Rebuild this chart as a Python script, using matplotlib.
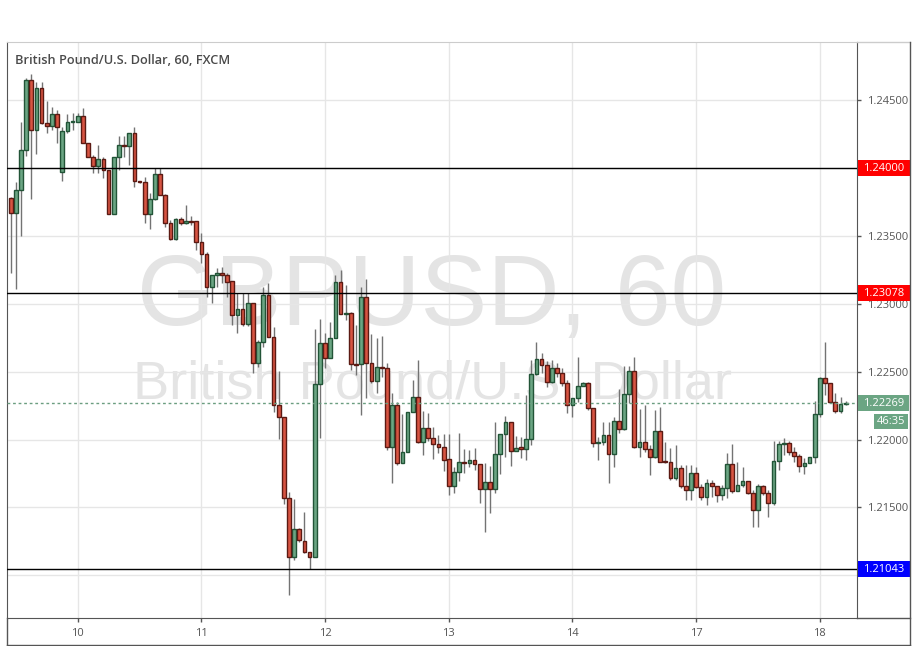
import numpy as np
import matplotlib.pyplot as plt
import matplotlib.transforms as mtransforms
from matplotlib.lines import Line2D
from matplotlib.patches import Rectangle

# GBPUSD hourly candles (FXCM)
opens = [
    1.23780, 1.23669, 1.23839, 1.24131, 1.24647, 1.24279, 1.24588, 1.24330, 1.24308, 1.24397,
    1.23969, 1.24271, 1.24342, 1.24342, 1.24386, 1.24183, 1.24084, 1.24016, 1.24065, 1.23986,
    1.23660, 1.24080, 1.24169, 1.24166, 1.24261, 1.23903, 1.23896, 1.23660, 1.23770, 1.23955,
    1.23800, 1.23594, 1.23476, 1.23623, 1.23594, 1.23613, 1.23608, 1.23458, 1.23367, 1.23126,
    1.23210, 1.23225, 1.23215, 1.23166, 1.22916, 1.22960, 1.22849, 1.23004, 1.22563, 1.22717,
    1.23065, 1.22758, 1.22255, 1.22166, 1.21567, 1.21132, 1.21339, 1.21255, 1.21174, 1.21137,
    1.22412, 1.22709, 1.22599, 1.22746, 1.23163, 1.22923, 1.22935, 1.22555, 1.22555, 1.23048,
    1.22563, 1.22434, 1.22537, 1.22525, 1.21943, 1.22255, 1.21829, 1.21910, 1.22201, 1.22311,
    1.21984, 1.22083, 1.22009, 1.21965, 1.21947, 1.21854, 1.21660, 1.21759, 1.21832, 1.21825,
    1.21847, 1.21818, 1.21638, 1.21685, 1.21633, 1.21891, 1.22041, 1.22127, 1.21918, 1.21943,
    1.21928, 1.22002, 1.22483, 1.22591, 1.22547, 1.22426, 1.22525, 1.22493, 1.22415, 1.22252,
    1.22304, 1.22395, 1.22415, 1.22230, 1.21972, 1.21984, 1.22031, 1.21891, 1.22137, 1.22075,
    1.22336, 1.22505, 1.21947, 1.21984, 1.21930, 1.21869, 1.22063, 1.21843, 1.21832, 1.21714,
    1.21788, 1.21658, 1.21628, 1.21751, 1.21648, 1.21574, 1.21678, 1.21658, 1.21591, 1.21641,
    1.21818, 1.21623, 1.21663, 1.21692, 1.21608, 1.21481, 1.21658, 1.21608, 1.21530, 1.21844,
    1.21965, 1.21972, 1.21910, 1.21879, 1.21807, 1.21825, 1.21869, 1.22186, 1.22451, 1.22415,
    1.22279, 1.22213, 1.22262,
]
highs = [
    1.23787, 1.23898, 1.24342, 1.24662, 1.24694, 1.24633, 1.24633, 1.24493, 1.24448, 1.24428,
    1.24301, 1.24397, 1.24406, 1.24404, 1.24441, 1.24183, 1.24097, 1.24170, 1.24084, 1.23986,
    1.24080, 1.24237, 1.24237, 1.24261, 1.24301, 1.23905, 1.23937, 1.23815, 1.23999, 1.23999,
    1.23809, 1.23618, 1.23633, 1.23642, 1.23728, 1.23647, 1.23611, 1.23520, 1.23384, 1.23212,
    1.23262, 1.23274, 1.23225, 1.23166, 1.23078, 1.23078, 1.23078, 1.23004, 1.22734, 1.23124,
    1.23151, 1.22827, 1.22505, 1.22166, 1.21616, 1.21560, 1.21350, 1.21464, 1.21174, 1.22812,
    1.22886, 1.22783, 1.22864, 1.23212, 1.23249, 1.23139, 1.22940, 1.22844, 1.23126, 1.23183,
    1.22778, 1.22746, 1.22763, 1.22563, 1.22345, 1.22279, 1.22188, 1.22201, 1.22439, 1.22586,
    1.22213, 1.22193, 1.22095, 1.22033, 1.22041, 1.22041, 1.21800, 1.22046, 1.21928, 1.21923,
    1.21936, 1.21820, 1.21825, 1.21807, 1.22127, 1.22041, 1.22174, 1.22127, 1.22026, 1.22021,
    1.22328, 1.22586, 1.22717, 1.22636, 1.22581, 1.22586, 1.22563, 1.22525, 1.22439, 1.22304,
    1.22611, 1.22426, 1.22426, 1.22230, 1.22021, 1.22131, 1.22131, 1.22168, 1.22370, 1.22544,
    1.22544, 1.22611, 1.22223, 1.22255, 1.21960, 1.22218, 1.22238, 1.21984, 1.21936, 1.21960,
    1.21812, 1.21812, 1.21812, 1.21800, 1.21672, 1.21709, 1.21702, 1.21658, 1.21665, 1.21899,
    1.21967, 1.21837, 1.21800, 1.21695, 1.21628, 1.21672, 1.21665, 1.21628, 1.21989, 1.21989,
    1.22009, 1.21989, 1.21947, 1.21891, 1.21866, 1.21871, 1.22286, 1.22463, 1.22717, 1.22417,
    1.22341, 1.22316, 1.22282,
]
lows = [
    1.23230, 1.23112, 1.23502, 1.24092, 1.23770, 1.24106, 1.24325, 1.24257, 1.24279, 1.24187,
    1.23903, 1.24259, 1.24281, 1.24342, 1.24183, 1.24084, 1.23962, 1.23962, 1.23925, 1.23660,
    1.23660, 1.23986, 1.24082, 1.24023, 1.23863, 1.23891, 1.23594, 1.23554, 1.23765, 1.23800,
    1.23564, 1.23470, 1.23470, 1.23581, 1.23588, 1.23581, 1.23397, 1.23299, 1.23053, 1.23008,
    1.23126, 1.23151, 1.23053, 1.22844, 1.22783, 1.22837, 1.22837, 1.22493, 1.22537, 1.22684,
    1.22758, 1.22205, 1.22002, 1.21523, 1.20854, 1.21112, 1.21243, 1.21162, 1.21044, 1.21137,
    1.22014, 1.22529, 1.22599, 1.22746, 1.22923, 1.22881, 1.22513, 1.22476, 1.22181, 1.22304,
    1.22417, 1.22341, 1.22463, 1.21923, 1.21678, 1.21812, 1.21825, 1.21910, 1.22201, 1.21972,
    1.21886, 1.21989, 1.21857, 1.21903, 1.21770, 1.21591, 1.21608, 1.21697, 1.21751, 1.21800,
    1.21776, 1.21535, 1.21321, 1.21461, 1.21608, 1.21746, 1.21874, 1.21807, 1.21918, 1.21862,
    1.21849, 1.21960, 1.22476, 1.22488, 1.22389, 1.22417, 1.22461, 1.22395, 1.22193, 1.22168,
    1.22279, 1.22395, 1.22218, 1.21947, 1.21849, 1.21960, 1.21678, 1.21800, 1.22046, 1.22070,
    1.22267, 1.21936, 1.21874, 1.21908, 1.21739, 1.21864, 1.21837, 1.21827, 1.21702, 1.21702,
    1.21643, 1.21555, 1.21555, 1.21643, 1.21555, 1.21518, 1.21577, 1.21540, 1.21555, 1.21567,
    1.21604, 1.21621, 1.21650, 1.21599, 1.21358, 1.21358, 1.21591, 1.21431, 1.21518, 1.21776,
    1.21886, 1.21886, 1.21837, 1.21763, 1.21744, 1.21825, 1.21825, 1.22168, 1.22328, 1.22269,
    1.22198, 1.22198, 1.22258,
]
closes = [
    1.23669, 1.23839, 1.24131, 1.24647, 1.24279, 1.24588, 1.24330, 1.24308, 1.24397, 1.24301,
    1.24271, 1.24342, 1.24347, 1.24386, 1.24183, 1.24084, 1.24016, 1.24065, 1.23986, 1.23660,
    1.24080, 1.24169, 1.24166, 1.24261, 1.23903, 1.23896, 1.23660, 1.23770, 1.23955, 1.23800,
    1.23594, 1.23476, 1.23623, 1.23594, 1.23613, 1.23603, 1.23458, 1.23367, 1.23126, 1.23210,
    1.23225, 1.23215, 1.23163, 1.22916, 1.22960, 1.22849, 1.23004, 1.22563, 1.22717, 1.23065,
    1.22758, 1.22255, 1.22166, 1.21567, 1.21132, 1.21339, 1.21260, 1.21174, 1.21137, 1.22412,
    1.22709, 1.22599, 1.22746, 1.23163, 1.22923, 1.22935, 1.22555, 1.22547, 1.23048, 1.22563,
    1.22434, 1.22537, 1.22525, 1.21943, 1.22255, 1.21829, 1.21910, 1.22201, 1.22311, 1.21984,
    1.22083, 1.22009, 1.21965, 1.21947, 1.21849, 1.21660, 1.21759, 1.21832, 1.21825, 1.21847,
    1.21818, 1.21638, 1.21685, 1.21633, 1.21891, 1.22041, 1.22127, 1.21918, 1.21940, 1.21928,
    1.22002, 1.22483, 1.22591, 1.22547, 1.22426, 1.22525, 1.22493, 1.22415, 1.22252, 1.22304,
    1.22395, 1.22415, 1.22230, 1.21972, 1.21984, 1.22031, 1.21891, 1.22137, 1.22075, 1.22336,
    1.22505, 1.21947, 1.21984, 1.21930, 1.21869, 1.22063, 1.21837, 1.21832, 1.21714, 1.21788,
    1.21658, 1.21628, 1.21751, 1.21648, 1.21574, 1.21678, 1.21658, 1.21591, 1.21641, 1.21818,
    1.21623, 1.21663, 1.21692, 1.21608, 1.21481, 1.21658, 1.21608, 1.21530, 1.21844, 1.21965,
    1.21972, 1.21910, 1.21879, 1.21807, 1.21825, 1.21871, 1.22186, 1.22451, 1.22415, 1.22279,
    1.22213, 1.22262, 1.22269,
]

day_labels = ['10', '11', '12', '13', '14', '17', '18']
day_index = [13, 37, 61, 85, 109, 133, 157]
price_ticks = [1.21000, 1.21500, 1.22000, 1.22500, 1.23000, 1.23500, 1.24000, 1.24500]
levels = [1.24000, 1.23078, 1.21043]
level_colors = ['#ff0000', '#ff0000', '#0000ff']
last_price = 1.22269
countdown = '46:35'

W, H = 915, 646
fig = plt.figure(figsize=(W / 100, H / 100), dpi=100)
fig.patch.set_facecolor('white')
ax = fig.add_axes([7 / W, 1 - 618 / H, 850 / W, 576 / H])

o = np.array(opens); h = np.array(highs); l = np.array(lows); c = np.array(closes)
x = np.arange(len(o))
up = c >= o

# watermark
ax.text(0.5, 0.553, 'GBPUSD, 60', transform=ax.transAxes, ha='center', va='center',
        fontsize=72, family='Liberation Sans', color='#e4e4e4', zorder=0)
ax.text(0.5, 0.405, 'British Pound/U.S. Dollar', transform=ax.transAxes, ha='center', va='center',
        fontsize=39, family='Liberation Sans', color='#e4e4e4', zorder=0)

# candles
ax.vlines(x, l, h, color='#737373', linewidth=1, zorder=2)
bottom = np.minimum(o, c)
height = np.maximum(np.abs(c - o), 0.00003)
ax.bar(x[up], height[up], bottom=bottom[up], width=0.72, color='#6ba583',
       edgecolor='#225437', linewidth=1, zorder=3)
ax.bar(x[~up], height[~up], bottom=bottom[~up], width=0.72, color='#d75442',
       edgecolor='#5b1a13', linewidth=1, zorder=3)

# support / resistance lines
for lv in levels:
    ax.axhline(lv, color='black', linewidth=1, zorder=4)
ax.axhline(last_price, color='#6b9e80', linewidth=1, linestyle=(0, (2, 2)), zorder=4)

ax.set_xlim(-0.72, 164.2)
ax.set_ylim(1.20685, 1.24930)
ax.set_yticks(price_ticks)
# 1.21000 and 1.24000 sit under the coloured level labels
ax.set_yticklabels(['' if t in (1.21, 1.24) else '%.5f' % t for t in price_ticks],
                   family='Open Sans')
ax.yaxis.tick_right()
ax.set_xticks(day_index)
ax.set_xticklabels(day_labels, family='Open Sans')
ax.tick_params(axis='both', labelsize=8, colors='#555555', length=3, width=1)
ax.tick_params(axis='x', pad=4)
ax.tick_params(axis='y', pad=4)
ax.grid(True, color='#e6e6e6', linewidth=1)
ax.set_axisbelow(True)
for side in ['left', 'right', 'bottom']:
    ax.spines[side].set_color('#555555')
ax.spines['top'].set_color('#cccccc')

# price labels on the axis
blend = mtransforms.blended_transform_factory(fig.transFigure, ax.transData)
half = 8 * (1.24930 - 1.20685) / 576
for lv, col in zip(levels, level_colors):
    ax.add_patch(Rectangle((858 / W, lv - half), 52 / W, 2 * half, transform=blend,
                           facecolor=col, edgecolor='none', clip_on=False, zorder=10))
    ax.text(884 / W, lv, '%.5f' % lv, transform=blend, ha='center', va='center',
            fontsize=8, family='Open Sans', color='white', clip_on=False, zorder=11)
ax.add_patch(Rectangle((858 / W, last_price - half), 51 / W, 2 * half, transform=blend,
                       facecolor='#6ba583', edgecolor='none', clip_on=False, zorder=10))
ax.text(884 / W, last_price, '%.5f' % last_price, transform=blend, ha='center', va='center',
        fontsize=8, family='Open Sans', color='white', clip_on=False, zorder=11)
ax.add_patch(Rectangle((874 / W, last_price - 3.2 * half), 34 / W, 1.8 * half, transform=blend,
                       facecolor='#6ba583', edgecolor='none', clip_on=False, zorder=10))
ax.text(891 / W, last_price - 2.3 * half, countdown, transform=blend, ha='center', va='center',
        fontsize=8, family='Open Sans', color='white', clip_on=False, zorder=11)

# title
fig.text(15 / W, 1 - 60 / H, 'British Pound/U.S. Dollar, 60, FXCM', ha='left', va='center',
         fontsize=9.2, family='Open Sans', fontweight='semibold', color='#4a4a4a')

# outer frame
def frame_line(x0, y0, x1, y1, col):
    fig.add_artist(Line2D([x0 / W, x1 / W], [1 - y0 / H, 1 - y1 / H], color=col, linewidth=1))

frame_line(857, 42, 910, 42, '#cccccc')
frame_line(910, 42, 910, 645, '#555555')
frame_line(7, 645, 910, 645, '#555555')
frame_line(7, 618, 7, 645, '#555555')
frame_line(857, 618, 910, 618, '#555555')

fig.savefig('out.png', dpi=100)
